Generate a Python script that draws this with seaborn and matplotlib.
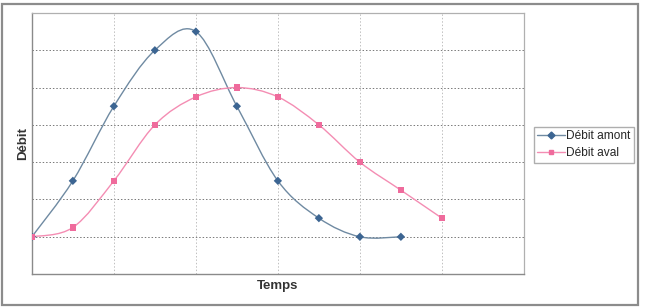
''' Débit amont / débit aval en fonction du temps (courbes lissées façon Excel). '''

import pandas as pd
import matplotlib
matplotlib.use('Agg')
import matplotlib.pyplot as plt
from matplotlib.path import Path
from matplotlib.patches import PathPatch, Rectangle
from matplotlib.lines import Line2D
import seaborn as sns

temps_amont = [0, 1, 2, 3, 4, 5, 6, 7, 8, 9]
debit_amont = [1, 2.5, 4.5, 6, 6.5, 4.5, 2.5, 1.5, 1, 1]
temps_aval = [0, 1, 2, 3, 4, 5, 6, 7, 8, 9, 10]
debit_aval = [1, 1.25, 2.5, 4, 4.75, 5, 4.75, 4, 3, 2.25, 1.5]

col_amont_line = '#6f8aa2'
col_amont_mark = '#3c6592'
col_aval_line = '#f48db3'
col_aval_mark = '#ef6b9c'


def smooth_path(xs, ys):
    # bezier segments with catmull-rom style control points (like excel "smoothed line")
    pts = list(zip(xs, ys))
    verts = [pts[0]]
    codes = [Path.MOVETO]
    n = len(pts)
    for i in range(n - 1):
        p0 = pts[i - 1] if i > 0 else pts[i]
        p1 = pts[i]
        p2 = pts[i + 1]
        p3 = pts[i + 2] if i + 2 < n else pts[i + 1]
        c1 = (p1[0] + (p2[0] - p0[0]) / 6, p1[1] + (p2[1] - p0[1]) / 6)
        c2 = (p2[0] - (p3[0] - p1[0]) / 6, p2[1] - (p3[1] - p1[1]) / 6)
        verts += [c1, c2, p2]
        codes += [Path.CURVE4] * 3
    return Path(verts, codes)


sns.set_theme(style="white")
plt.rcParams['font.family'] = ['Liberation Sans', 'DejaVu Sans']

fig = plt.figure(figsize=(6.5, 3.08), dpi=100)
ax = fig.add_axes([0.049, 0.110, 0.757, 0.848])

amont = pd.DataFrame({'t': temps_amont, 'q': debit_amont})
aval = pd.DataFrame({'t': temps_aval, 'q': debit_aval})

ax.add_patch(PathPatch(smooth_path(temps_amont, debit_amont), fill=False,
                       edgecolor=col_amont_line, lw=1.0, zorder=3))
ax.add_patch(PathPatch(smooth_path(temps_aval, debit_aval), fill=False,
                       edgecolor=col_aval_line, lw=1.0, zorder=3))
sns.scatterplot(data=amont, x='t', y='q', ax=ax, marker='D', s=18,
                color=col_amont_mark, edgecolor='none', zorder=4)
sns.scatterplot(data=aval, x='t', y='q', ax=ax, marker='s', s=20,
                color=col_aval_mark, edgecolor='none', zorder=4)

ax.set_xlim(0, 12)
ax.set_ylim(0, 7)
ax.set_xticks(range(0, 13, 2))
ax.set_yticks(range(0, 8))
ax.tick_params(length=0, labelbottom=False, labelleft=False)
ax.grid(False)
for yv in range(1, 7):
    ax.axhline(yv, color='#787878', lw=0.7, ls=(0, (1.5, 2)), zorder=1)
for xv in range(2, 12, 2):
    ax.axvline(xv, color='#c0c0c0', lw=0.7, ls=(0, (1.5, 2)), zorder=1)

for side in ['top', 'right']:
    ax.spines[side].set_color('#b0b0b0')
    ax.spines[side].set_linewidth(0.9)
for side in ['left', 'bottom']:
    ax.spines[side].set_color('#8a8a8a')
    ax.spines[side].set_linewidth(1.0)

ax.set_xlabel('Temps', fontsize=9.5, fontweight='bold', color='#333333', labelpad=4.5)
ax.set_ylabel('Débit', fontsize=9.5, fontweight='bold', color='#333333', labelpad=2)

handles = [
    Line2D([], [], color=col_amont_line, lw=1.0, marker='D', markersize=3.5,
           markerfacecolor=col_amont_mark, markeredgecolor=col_amont_mark),
    Line2D([], [], color=col_aval_line, lw=1.0, marker='s', markersize=3.5,
           markerfacecolor=col_aval_mark, markeredgecolor=col_aval_mark),
]
fig.legend(handles, ['Débit amont', 'Débit aval'], loc='center left',
           bbox_to_anchor=(0.821, 0.53), fontsize=8.6, frameon=True,
           fancybox=False, edgecolor='#9a9a9a', handlelength=2.3,
           handletextpad=0.15, borderpad=0.3, labelspacing=0.4,
           borderaxespad=0)

fig.patches.append(Rectangle((0.003, 0.01), 0.978, 0.978, transform=fig.transFigure,
                             fill=False, edgecolor='#8c8c8c', lw=1.6))

plt.savefig('out.png', dpi=100)
